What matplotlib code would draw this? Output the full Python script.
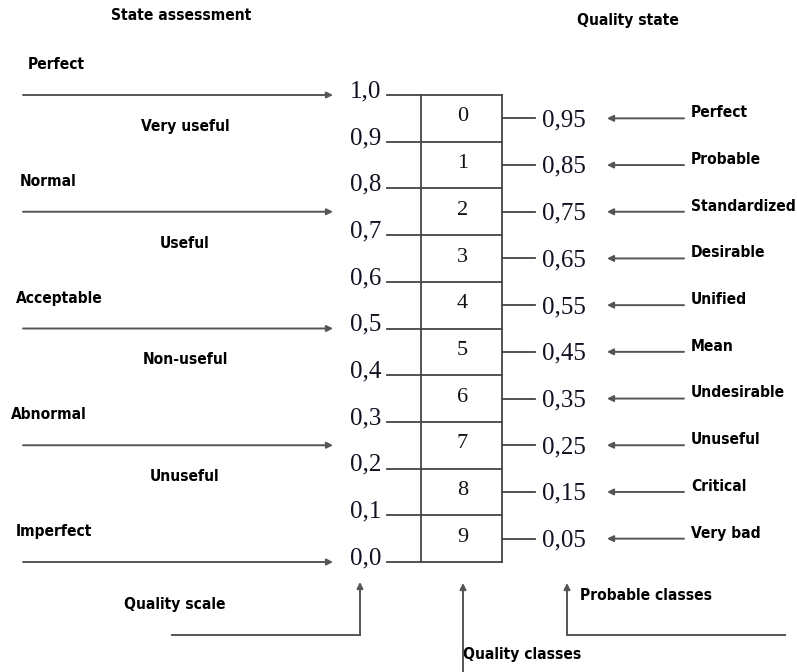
import matplotlib
matplotlib.use("Agg")
import matplotlib.pyplot as plt
from matplotlib import font_manager as fm

# ---- data ----
scale_values = [1.0, 0.9, 0.8, 0.7, 0.6, 0.5, 0.4, 0.3, 0.2, 0.1, 0.0]
scale_labels = ["1,0", "0,9", "0,8", "0,7", "0,6", "0,5", "0,4", "0,3", "0,2", "0,1", "0,0"]
quality_classes = ["0", "1", "2", "3", "4", "5", "6", "7", "8", "9"]
class_probs = [0.95, 0.85, 0.75, 0.65, 0.55, 0.45, 0.35, 0.25, 0.15, 0.05]
class_prob_labels = ["0,95", "0,85", "0,75", "0,65", "0,55", "0,45", "0,35", "0,25", "0,15", "0,05"]
quality_states = ["Perfect", "Probable", "Standardized", "Desirable", "Unified",
                  "Mean", "Undesirable", "Unuseful", "Critical", "Very bad"]
assessment_points = [1.0, 0.75, 0.5, 0.25, 0.0]
assessment_labels = ["Perfect", "Normal", "Acceptable", "Abnormal", "Imperfect"]
usefulness_ranges = [(1.0, 0.75), (0.75, 0.5), (0.5, 0.25), (0.25, 0.0)]
usefulness_labels = ["Very useful", "Useful", "Non-useful", "Unuseful"]

# pick a condensed bold face if one is installed
cond = None
for f in fm.fontManager.ttflist:
    n = f.fname.lower()
    if ("condensed" in n or "narrow" in n) and ("bold" in n) and "oblique" not in n and "italic" not in n:
        cond = f.fname
        break

# ---- figure ----
W, H = 797, 672
fig = plt.figure(figsize=(W / 100, H / 100), dpi=100)
ax = fig.add_axes([0, 0, 1, 1])
TOP_PX, SPAN_PX = 95, 467          # pixel row of value 1.0 and height of unit range
def v(py):                          # pixel row -> value
    return 1 - (py - TOP_PX) / SPAN_PX
ax.set_xlim(0, W)
ax.set_ylim(v(H), v(0))
ax.axis("off")

if cond:
    LBL = dict(fontproperties=fm.FontProperties(fname=cond, size=11.2), color="black")
else:
    LBL = dict(family=["Liberation Sans", "DejaVu Sans"], weight="bold",
               fontsize=11, color="black")
SERIF = ["Liberation Serif", "DejaVu Serif"]
NUM = dict(family=SERIF, fontsize=18, color="#111122")
LC = "#444444"
LW = 1.3

def arrow(x0, y0, x1, y1, color="#555555"):
    ax.annotate("", xy=(x1, y1), xytext=(x0, y0),
                arrowprops=dict(arrowstyle="-|>", mutation_scale=9, lw=1.4,
                                color=color, shrinkA=0, shrinkB=0))

# box of quality classes
BX0, BX1 = 421, 502
ax.plot([BX0, BX0], [scale_values[0], scale_values[-1]], color=LC, lw=LW)
ax.plot([BX1, BX1], [scale_values[0], scale_values[-1]], color=LC, lw=LW)
for val, lab in zip(scale_values, scale_labels):
    ax.plot([387, BX1], [val, val], color=LC, lw=LW)
    ax.text(381, val + 0.008, lab, ha="right", va="center", **NUM)

# classes and probabilities
for c, p, pl, st in zip(quality_classes, class_probs, class_prob_labels, quality_states):
    ax.text((BX0 + BX1) / 2 + 1, p + 0.003, c, ha="center", va="center",
            family=SERIF, fontsize=16, color="#111111")
    ax.plot([BX1, 535], [p, p], color=LC, lw=LW)
    ax.text(542, p - 0.004, pl, ha="left", va="center", **NUM)
    arrow(684, p, 607, p)
    ax.text(691, p + 0.012, st, ha="left", va="center", **LBL)

# state assessment arrows
label_x = [28, 20, 16, 11, 16]
for pt, lab, lx in zip(assessment_points, assessment_labels, label_x):
    arrow(23, pt, 333, pt)
    ax.text(lx, pt + 0.065, lab, ha="left", va="center", **LBL)

for (a, b), lab in zip(usefulness_ranges, usefulness_labels):
    ax.text(185, (a + b) / 2 + 0.058, lab, ha="center", va="center", **LBL)

# headers
ax.text(181, v(16), "State assessment", ha="center", va="center", **LBL)
ax.text(628, v(20), "Quality state", ha="center", va="center", **LBL)

# bottom pointers
ax.plot([172, 360], [v(635), v(635)], color="#555555", lw=1.4)
arrow(360, v(635), 360, v(582))
ax.text(175, v(604), "Quality scale", ha="center", va="center", **LBL)

arrow(463, v(H + 2), 463, v(583))
ax.text(463, v(655), "Quality classes", ha="left", va="center", **LBL)

ax.plot([567, 785], [v(635), v(635)], color="#555555", lw=1.4)
arrow(567, v(635), 567, v(583))
ax.text(580, v(596), "Probable classes", ha="left", va="center", **LBL)

fig.savefig("out.png", dpi=100, facecolor="white")
